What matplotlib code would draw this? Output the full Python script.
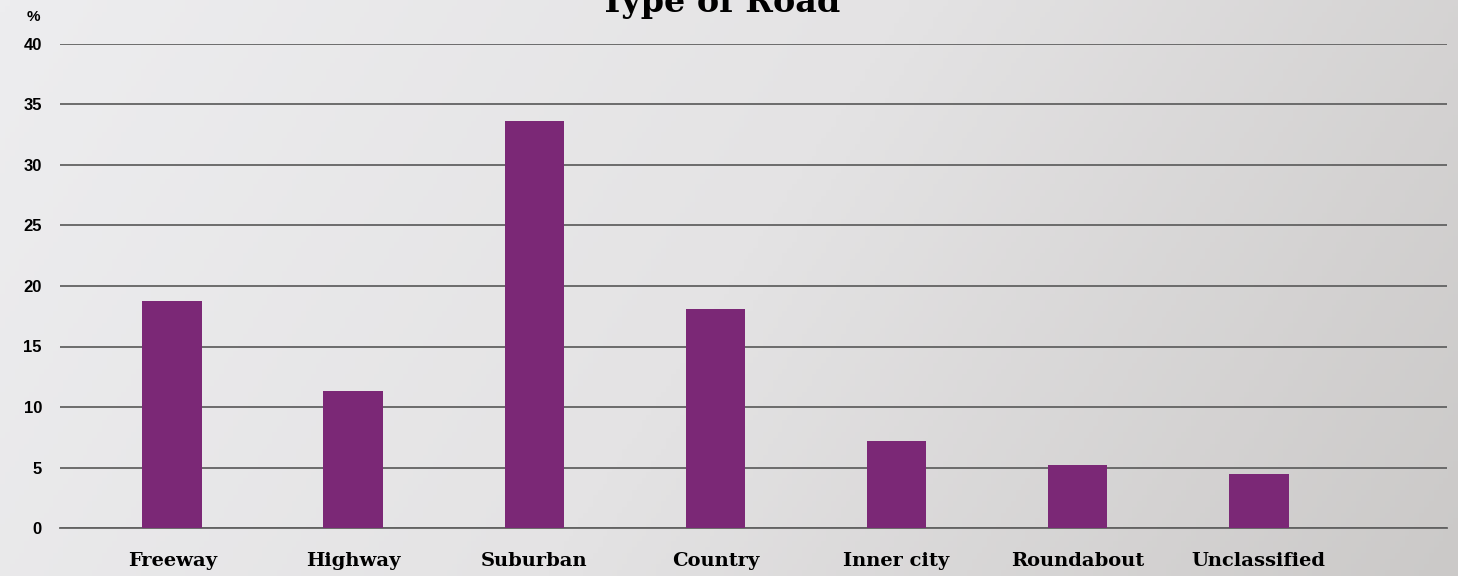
import numpy as np
import matplotlib
matplotlib.use('Agg')
from matplotlib import pyplot as plt
from matplotlib.colors import LinearSegmentedColormap

categories = ['Freeway', 'Highway', 'Suburban', 'Country', 'Inner city', 'Roundabout', 'Unclassified']
values = [18.8, 11.3, 33.6, 18.1, 7.2, 5.2, 4.5]
yticks = [0, 5, 10, 15, 20, 25, 30, 35, 40]

fig = plt.figure(figsize=(14.58, 5.76), dpi=100)

# background gradient
bg = fig.add_axes([0, 0, 1, 1], zorder=-1)
gx, gy = np.meshgrid(np.linspace(0, 1, 300), np.linspace(0, 1, 100))
grad = 0.8 * gx + 0.2 * gy
cmap = LinearSegmentedColormap.from_list('bg', ['#ededef', '#e4e3e4', '#cbc9c8'])
bg.imshow(grad, cmap=cmap, aspect='auto', extent=[0, 1, 0, 1], origin='upper')
bg.axis('off')

ax = fig.add_axes([60 / 1458, 48 / 576, (1447 - 60) / 1458, 484 / 576])
ax.patch.set_alpha(0)
x = np.arange(len(categories))
ax.bar(x, values, width=0.33, color='#7b2876', zorder=3)

ax.set_xlim(-0.62, 7.04)
ax.set_ylim(0, 40)
ax.set_yticks(yticks)
ax.set_yticklabels([str(v) for v in yticks], fontsize=12, fontweight='bold',
                   family='Liberation Sans')
ax.set_xticks(x)
ax.set_xticklabels(categories, fontsize=14, fontweight='bold', family='DejaVu Serif')
ax.tick_params(axis='y', length=0, pad=13)
ax.tick_params(axis='x', length=0, pad=17)
ax.grid(axis='y', color='#626262', linewidth=1.3, zorder=0)
for s in ['top', 'right', 'left']:
    ax.spines[s].set_visible(False)
ax.spines['bottom'].set_color('#626262')
ax.spines['bottom'].set_linewidth(1.3)

fig.text(33 / 1458, 1 - 17 / 576, '%', fontsize=11, fontweight='bold',
         family='Liberation Sans', ha='center', va='center')
fig.text(720 / 1458, 1 - 12 / 576, 'Type of Road', fontsize=24, fontweight='bold',
         family='DejaVu Serif', ha='center', va='baseline')

fig.savefig('out.png', dpi=100)
